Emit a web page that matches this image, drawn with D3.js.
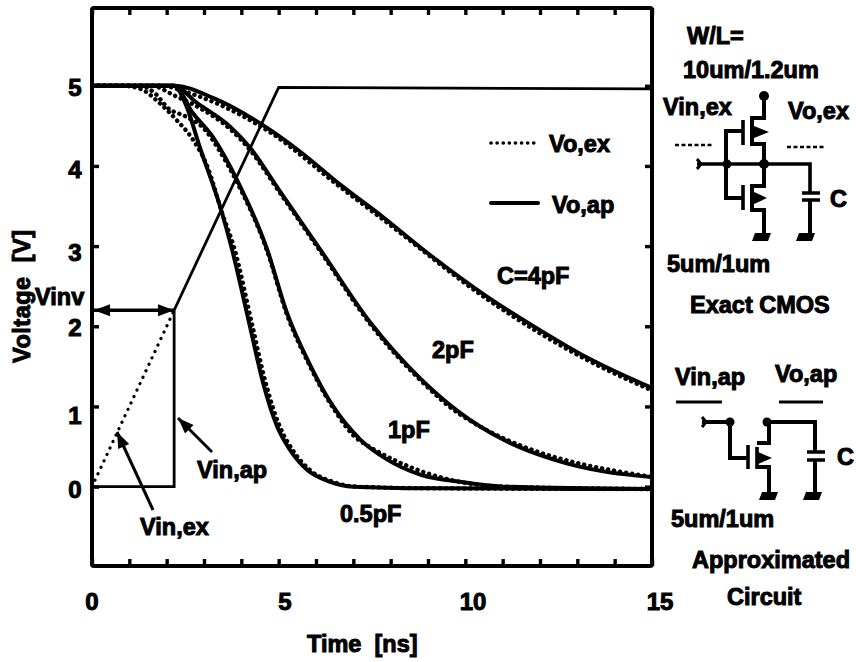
<!DOCTYPE html>
<html>
<head>
<meta charset="utf-8">
<script src="https://cdn.jsdelivr.net/npm/d3@7/dist/d3.min.js"></script>
<style>
  body { margin: 0; background: #fff; }
  text { font-family: "Liberation Sans", Arial, sans-serif; font-weight: bold; fill: #000; stroke: #000; stroke-width: 1px; white-space: pre; }
</style>
</head>
<body>
<div id="chart"></div>
<script>
// avlästa värden [ns, V]
const time05 = [0, 2.2, 2.5, 2.89, 3.48, 3.75, 4.23, 4.58, 4.96, 5.3, 5.76, 6.38, 7, 9, 15];
const vo05 = [5, 5, 4.78, 4.23, 3.42, 2.96, 2.0, 1.3, 0.75, 0.46, 0.21, 0.06, 0, -0.02, -0.03];
const time1 = [0, 2.2, 2.7, 3.24, 3.88, 4.69, 5.22, 5.84, 6.46, 7.18, 7.9, 8.79, 9.86, 11, 15];
const vo1 = [5, 5, 4.66, 4.36, 3.83, 2.96, 2.17, 1.52, 1.0, 0.59, 0.34, 0.15, 0.06, 0, -0.03];
const time2 = [0, 2.2, 2.8, 3.7, 4.23, 5.04, 6.11, 7.45, 8.79, 9.86, 11, 12.35, 13.7, 15];
const vo2 = [5, 5, 4.79, 4.49, 4.23, 3.68, 2.96, 2.05, 1.35, 0.92, 0.59, 0.34, 0.19, 0.12];
const time4 = [0, 2.2, 3.24, 4.77, 5.57, 6.64, 7.8, 8.97, 10.58, 11.9, 13.26, 15];
const vo4 = [5, 5, 4.85, 4.45, 4.18, 3.77, 3.36, 2.92, 2.37, 1.98, 1.61, 1.23];

const timeEx05 = [0, 0.8, 1.3, 1.82, 2.27, 2.7, 3.1, 3.48, 3.82, 4.3, 4.65, 5.03, 5.37, 5.83, 6.45, 7.07, 9, 15];
const voEx05 = [5, 5, 4.96, 4.78, 4.57, 4.33, 3.98, 3.42, 2.96, 2.0, 1.3, 0.75, 0.46, 0.21, 0.06, 0, -0.02, -0.03];
const timeEx1 = [0, 1.3, 1.7, 2.04, 2.5, 3.03, 3.4, 3.88, 4.69, 5.22, 5.84, 6.46, 7.18, 11, 15];
const voEx1 = [5, 5, 4.9, 4.72, 4.62, 4.45, 4.2, 3.8, 2.94, 2.15, 1.5, 0.98, 0.57, 0, -0.03];
const timeEx2 = [0, 1.6, 2.2, 2.97, 3.7, 4.23, 5.04, 6.11, 7.45, 8.79, 9.86, 15];
const voEx2 = [5, 5, 4.88, 4.7, 4.46, 4.2, 3.66, 2.94, 2.03, 1.33, 0.9, 0.12];
const timeEx4 = [0, 1.9, 2.4, 3.24, 4.77, 6.64, 7.8, 10.58, 13.26, 15];
const voEx4 = [5, 5, 4.94, 4.8, 4.42, 3.74, 3.33, 2.34, 1.58, 1.2];

const timeInAp = [0, 2.2, 2.2, 5, 15];
const vinAp = [0, 0, 2.2, 4.98, 4.96];
const timeInEx = [0, 2.2];
const vinEx = [0, 2.2];

const xTicks = d3.range(0, 16);
const xLabels = [0, 5, 10, 15];
const xLabelPos = [92, 285, 473, 660];
const yTicks = [0, 1, 2, 3, 4, 5];
const yLabelPos = [489, 415, 327, 252, 169, 87];

const svg = d3.select("#chart").append("svg")
  .attr("width", 856).attr("height", 662).style("display", "block");

const x = d3.scaleLinear().domain([0, 15]).range([92, 652]);
const y = d3.scaleLinear().domain([-0.99, 5.97]).range([566, 8]);

svg.append("clipPath").attr("id", "plot").append("rect")
  .attr("x", 92).attr("y", 8).attr("width", 560).attr("height", 558);

const zip = (a, b) => a.map((d, i) => [d, b[i]]);
const smooth = d3.line().x(d => x(d[0])).y(d => y(d[1])).curve(d3.curveMonotoneX);
const straight = d3.line().x(d => x(d[0])).y(d => y(d[1]));

const plot = svg.append("g").attr("clip-path", "url(#plot)").attr("fill", "none").attr("stroke", "#000");

// exakta kurvor (prickade)
[[timeEx05, voEx05], [timeEx1, voEx1], [timeEx2, voEx2], [timeEx4, voEx4]].forEach(([t, v]) => {
  plot.append("path").attr("d", smooth(zip(t, v)))
    .attr("stroke-width", 4.4).attr("stroke-dasharray", "0.1 6").attr("stroke-linecap", "round");
});

// approximerade kurvor
[[time05, vo05], [time1, vo1], [time2, vo2], [time4, vo4]].forEach(([t, v]) => {
  plot.append("path").attr("d", smooth(zip(t, v))).attr("stroke-width", 4);
});

// insignaler
plot.append("path").attr("d", straight(zip(timeInAp, vinAp))).attr("stroke-width", 2.8);
plot.append("path").attr("d", straight(zip(timeInEx, vinEx)))
  .attr("stroke-width", 3.2).attr("stroke-dasharray", "0.1 7").attr("stroke-linecap", "round");

// axlar
const xAxis = svg.append("g").attr("transform", "translate(0,566)")
  .call(d3.axisBottom(x).tickValues(xTicks).tickSize(-7).tickFormat(""));
const xAxisTop = svg.append("g").attr("transform", "translate(0,8)")
  .call(d3.axisTop(x).tickValues(xTicks).tickSize(-7).tickFormat(""));
const yAxis = svg.append("g").attr("transform", "translate(92,0)")
  .call(d3.axisLeft(y).tickValues(yTicks).tickSize(-7).tickFormat(""));
const yAxisRight = svg.append("g").attr("transform", "translate(652,0)")
  .call(d3.axisRight(y).tickValues(yTicks).tickSize(-7).tickFormat(""));
[xAxis, xAxisTop, yAxis, yAxisRight].forEach(a => {
  a.select(".domain").remove();
  a.selectAll("line").attr("stroke", "#000").attr("stroke-width", 3.4);
});

svg.append("rect").attr("x", 92).attr("y", 8).attr("width", 560).attr("height", 558)
  .attr("fill", "none").attr("stroke", "#000").attr("stroke-width", 4).attr("rx", 2);

const label = (s, px, py, size = 23.5, anchor = "start") => svg.append("text")
  .attr("x", px).attr("y", py).attr("font-size", size).attr("text-anchor", anchor).text(s);

xLabels.forEach((d, i) => label(d, xLabelPos[i], 610, 24, "middle"));
yTicks.forEach((d, i) => label(d, 75, yLabelPos[i] + 9, 24, "middle"));

label("Time  [ns]", 307, 652);
svg.append("text").attr("transform", "translate(30,363) rotate(-90)")
  .attr("font-size", 23.5).attr("letter-spacing", 0.5).text("Voltage  [V]");
label("Vinv", 35, 305);

// förklaring
svg.append("line").attr("x1", 491).attr("x2", 535).attr("y1", 143).attr("y2", 143)
  .attr("stroke", "#000").attr("stroke-width", 3.6).attr("stroke-dasharray", "0.1 6").attr("stroke-linecap", "round");
svg.append("line").attr("x1", 491).attr("x2", 538).attr("y1", 203).attr("y2", 203)
  .attr("stroke", "#000").attr("stroke-width", 4).attr("stroke-linecap", "round");
label("Vo,ex", 549, 152);
label("Vo,ap", 552, 213);

label("C=4pF", 497, 284);
label("2pF", 432, 358);
label("1pF", 388, 438);
label("0.5pF", 340, 522);
label("Vin,ap", 197, 478);
label("Vin,ex", 140, 535);

// pilar
const head = (px, py, fromX, fromY, len = 16, wid = 6) => {
  const a = Math.atan2(py - fromY, px - fromX);
  const bx = px - len * Math.cos(a), by = py - len * Math.sin(a);
  const nx = -Math.sin(a) * wid, ny = Math.cos(a) * wid;
  svg.append("path").attr("d", `M${px},${py}L${bx + nx},${by + ny}L${bx - nx},${by - ny}Z`).attr("fill", "#000");
};
const arrow = (x1, y1, x2, y2) => {
  svg.append("line").attr("x1", x1).attr("y1", y1).attr("x2", x2).attr("y2", y2)
    .attr("stroke", "#000").attr("stroke-width", 3);
  head(x2, y2, x1, y1);
};
arrow(212, 452, 178, 418);
arrow(153, 510, 117, 432);
svg.append("line").attr("x1", 92).attr("x2", 174).attr("y1", y(2.2)).attr("y2", y(2.2))
  .attr("stroke", "#000").attr("stroke-width", 3.4);
head(94, y(2.2), 174, y(2.2));
head(174, y(2.2), 94, y(2.2));

// kretsscheman
const wire = (d, w = 4) => svg.append("path").attr("d", d).attr("fill", "none")
  .attr("stroke", "#000").attr("stroke-width", w);
const blob = (d) => svg.append("path").attr("d", d).attr("fill", "#000");
const dot = (cx, cy, r = 4.5) => svg.append("circle").attr("cx", cx).attr("cy", cy).attr("r", r).attr("fill", "#000");
const ground = (cx, cy) => blob(`M${cx - 7},${cy}h16l-3,8h-16Z`);

// exakt CMOS
label("W/L=", 687, 44);
label("10um/1.2um", 683, 78);
label("Vin,ex", 663, 115);
label("Vo,ex", 788, 119);
label("C", 830, 207);
label("5um/1um", 667, 272);
label("Exact CMOS", 690, 313);
dot(764, 96, 5);
wire("M764,96V118H752V144H764V186H752V210H764V233");
wire("M743,120V145M743,185V210", 3.6);
wire("M743,131H726V198H743");
wire("M697,164H764M810,192V164H764", 3.6);
wire("M697,159L701,164L697,169", 3);
wire("M810,200V233");
wire("M802,193H820M802,200H820", 3.6);
blob("M754,126L769,132L754,138Z");
blob("M754,192L767,198L754,204Z");
dot(727, 164); dot(764, 164, 5);
ground(762, 233); ground(806, 233);
svg.selectAll(null).data([[675, 712, 145], [787, 825, 147]]).enter().append("line")
  .attr("x1", d => d[0]).attr("x2", d => d[1]).attr("y1", d => d[2]).attr("y2", d => d[2])
  .attr("stroke", "#000").attr("stroke-width", 2.6).attr("stroke-dasharray", "4 2.5");

// approximerad krets
label("Vin,ap", 675, 385);
label("Vo,ap", 775, 382);
label("C", 837, 465);
label("5um/1um", 671, 527);
label("Approximated", 692, 568);
label("Circuit", 727, 605);
wire("M676,402H722M779,402H823", 3);
wire("M702,422H730V458H748");
wire("M702,417L706,422L702,427", 3);
wire("M748,445V469M757,447V469", 3.6);
wire("M757,443H769V422H815V452M815,460V492M757,467H769V492");
wire("M807,452H825M807,460H825", 3.6);
blob("M758,452L772,458L758,464Z");
dot(730, 422); dot(767, 422);
ground(769, 492); ground(813, 492);
</script>
</body>
</html>
